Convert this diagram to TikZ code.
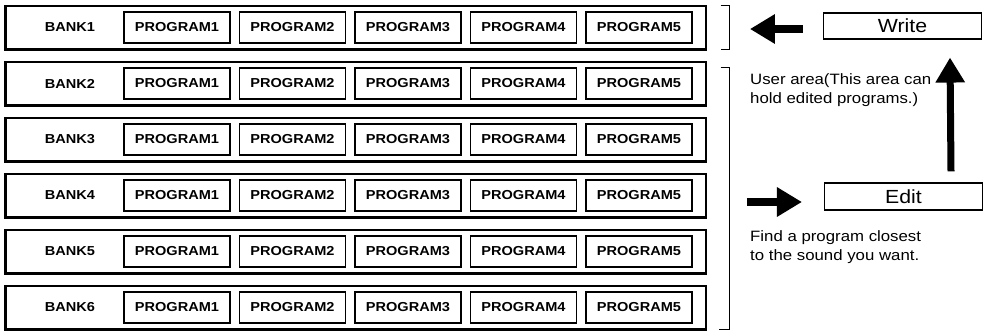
\documentclass[tikz,border=0pt]{standalone}
\usepackage{fontspec}
\setmainfont{Liberation Sans}[FakeStretch=1.12]
\usetikzlibrary{arrows.meta,positioning}

\begin{document}
\begin{tikzpicture}[
    x=1pt, y=-1pt,
    bankrow/.style={draw, line width=1.2pt, minimum width=700pt, minimum height=43pt, inner sep=0pt},
    progbox/.style={draw, line width=1.1pt, minimum width=106pt, minimum height=31pt, inner sep=0pt, font=\bfseries\fontsize{13}{15}\selectfont},
    banklabel/.style={inner sep=0pt, font=\bfseries\fontsize{13}{15}\selectfont},
    cmdbox/.style={draw, line width=1.1pt, minimum width=158pt, inner sep=0pt, font=\fontsize{19}{21}\selectfont},
    fatarrow/.style={line width=7.5pt, -{Triangle[length=25pt 0 0,width=28pt 0 0]}},
    bracket/.style={line width=0.9pt},
    note/.style={anchor=north west, align=left, inner sep=0pt, font=\fontsize{15}{19}\selectfont}
]
\useasboundingbox (0,0) rectangle (985,330);

% the six banks, five programs each
\foreach \b in {1,...,6} {
    \node[bankrow] (bank\b) at (356, {27.5+56*(\b-1)}) {};
    \draw[line width=2.4pt] (bank\b.north west) -- (bank\b.south west) -- (bank\b.south east);
    \node[banklabel] (name\b) at (70, {27.5+56*(\b-1)}) {BANK\b};
    \foreach \p in {1,...,5}
        \node[progbox] (prog\b\p) at ({177+115.5*(\p-1)}, {27.5+56*(\b-1)}) {PROGRAM\p};
}

% brackets
\draw[bracket] ([xshift=14pt]bank1.north east) -- ([xshift=23pt]bank1.north east)
    -- ([xshift=23pt]bank1.south east) -- ([xshift=14pt]bank1.south east);
\draw[bracket] ([xshift=14pt,yshift=-6pt]bank2.north east) -- ([xshift=23pt,yshift=-6pt]bank2.north east)
    -- ([xshift=23pt]bank6.south east) -- ([xshift=12pt]bank6.south east);

% write / edit
\node[cmdbox, minimum height=26pt] (write) at (902.5, 26) {Write};
\node[cmdbox, minimum height=27pt] (edit) at (903.5, 196.5) {Edit};

\draw[fatarrow] ([xshift=-20pt,yshift=-3pt]write.west) -- ([xshift=-73pt,yshift=-3pt]write.west);
\draw[fatarrow] ([xshift=-77pt,yshift=-5.5pt]edit.west) -- ([xshift=-22pt,yshift=-5.5pt]edit.west);
\draw[fatarrow, line width=7pt] ([xshift=47.5pt,yshift=11pt]edit.north) -- ([xshift=47.5pt,yshift=-18pt]write.south);

\node[note] (usernote) at (750, 73.5) {User area(This area can\\hold edited programs.)};
\node[note] (findnote) at (750, 230.5) {Find a program closest\\to the sound you want.};
\end{tikzpicture}
\end{document}
